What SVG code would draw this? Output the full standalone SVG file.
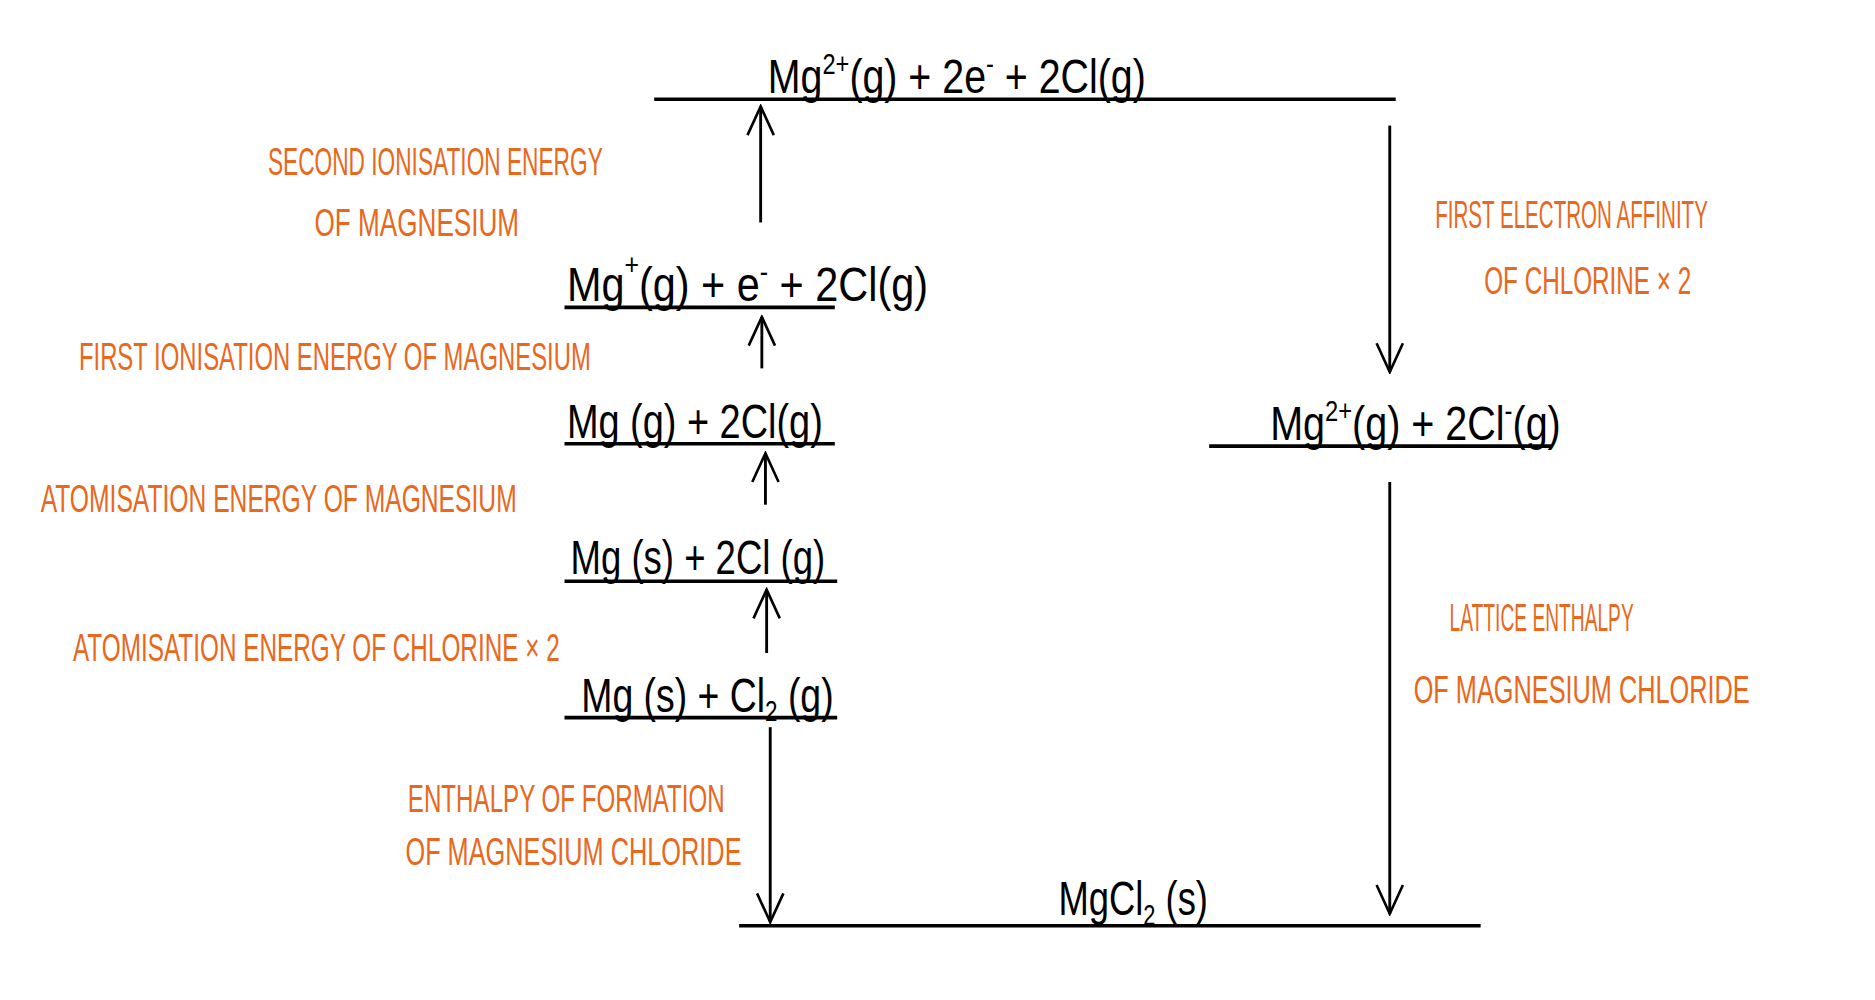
<svg xmlns="http://www.w3.org/2000/svg" width="1875" height="1000" viewBox="0 0 1875 1000">
<style>
.lv{stroke:#000;stroke-width:3;fill:none}
.ar{stroke:#000;stroke-width:2.4;fill:none}
.lb{font-family:"Liberation Sans Narrow","Liberation Sans",sans-serif;font-size:33px;fill:#e8681e}
.ch{font-family:"Liberation Sans Narrow","Liberation Sans",sans-serif;font-size:40px;fill:#000}
.sm{font-size:24px}
</style>
<defs>
<marker id="ah" viewBox="0 0 28 28" refX="26" refY="14" markerWidth="28" markerHeight="28" markerUnits="userSpaceOnUse" orient="auto">
<path d="M2 3 L26 14 L2 25" stroke="#000" stroke-width="2.2" fill="none"/>
</marker>
</defs>
<rect width="1875" height="1000" fill="#fff"/>
<g transform="scale(1.196)">
<g id="levels">
<g id="n1"><line class="lv" x1="547" y1="83" x2="1167" y2="83"/><text class="ch" x="642" y="78" textLength="316" lengthAdjust="spacingAndGlyphs">Mg<tspan class="sm" dy="-16">2+</tspan><tspan dy="16">(g) + 2e</tspan><tspan class="sm" dy="-16">-</tspan><tspan dy="16"> + 2Cl(g)</tspan></text></g>
<g id="n2"><line class="lv" x1="472" y1="257" x2="698" y2="257"/><text class="ch" x="474" y="252" textLength="302" lengthAdjust="spacingAndGlyphs">Mg<tspan class="sm" dy="-22">+</tspan><tspan dy="22">(g) + e</tspan><tspan class="sm" dy="-16">-</tspan><tspan dy="16"> + 2Cl(g)</tspan></text></g>
<g id="n3"><line class="lv" x1="472" y1="371" x2="698" y2="371"/><text class="ch" x="474" y="366" textLength="214" lengthAdjust="spacingAndGlyphs">Mg (g) + 2Cl(g)</text></g>
<g id="n4"><line class="lv" x1="472" y1="486" x2="700" y2="486"/><text class="ch" x="477" y="480" textLength="213" lengthAdjust="spacingAndGlyphs">Mg (s) + 2Cl (g)</text></g>
<g id="n5"><line class="lv" x1="472" y1="600" x2="700" y2="600"/><text class="ch" x="486" y="595" textLength="211" lengthAdjust="spacingAndGlyphs">Mg (s) + Cl<tspan class="sm" dy="8">2</tspan><tspan dy="-8"> (g)</tspan></text></g>
<g id="n6"><line class="lv" x1="1011" y1="373" x2="1297" y2="373"/><text class="ch" x="1062" y="368" textLength="243" lengthAdjust="spacingAndGlyphs">Mg<tspan class="sm" dy="-16">2+</tspan><tspan dy="16">(g) + 2Cl</tspan><tspan class="sm" dy="-16">-</tspan><tspan dy="16">(g)</tspan></text></g>
<g id="n7"><line class="lv" x1="618" y1="774" x2="1238" y2="774"/><text class="ch" x="885" y="765" textLength="125" lengthAdjust="spacingAndGlyphs">MgCl<tspan class="sm" dy="8">2</tspan><tspan dy="-8"> (s)</tspan></text></g>
</g>
<g id="connectors">
<line class="ar" x1="636" y1="186" x2="636" y2="89" marker-end="url(#ah)"/>
<line class="ar" x1="637" y1="308" x2="637" y2="265" marker-end="url(#ah)"/>
<line class="ar" x1="640" y1="422" x2="640" y2="379" marker-end="url(#ah)"/>
<line class="ar" x1="641" y1="546" x2="641" y2="493" marker-end="url(#ah)"/>
<line class="ar" x1="644" y1="608" x2="644" y2="771" marker-end="url(#ah)"/>
<line class="ar" x1="1162" y1="105" x2="1162" y2="311" marker-end="url(#ah)"/>
<line class="ar" x1="1162" y1="403" x2="1162" y2="764" marker-end="url(#ah)"/>
</g>
<g id="labels">
<text class="lb" x="224" y="146" textLength="280" lengthAdjust="spacingAndGlyphs">SECOND IONISATION ENERGY</text>
<text class="lb" x="263" y="197" textLength="171" lengthAdjust="spacingAndGlyphs">OF MAGNESIUM</text>
<text class="lb" x="66" y="309" textLength="428" lengthAdjust="spacingAndGlyphs">FIRST IONISATION ENERGY OF MAGNESIUM</text>
<text class="lb" x="34" y="428" textLength="398" lengthAdjust="spacingAndGlyphs">ATOMISATION ENERGY OF MAGNESIUM</text>
<text class="lb" x="61" y="553" textLength="407" lengthAdjust="spacingAndGlyphs">ATOMISATION ENERGY  OF CHLORINE  × 2</text>
<text class="lb" x="341" y="679" textLength="265" lengthAdjust="spacingAndGlyphs">ENTHALPY OF FORMATION</text>
<text class="lb" x="339" y="723" textLength="281" lengthAdjust="spacingAndGlyphs">OF MAGNESIUM  CHLORIDE</text>
<text class="lb" x="1200" y="191" textLength="228" lengthAdjust="spacingAndGlyphs">FIRST ELECTRON AFFINITY</text>
<text class="lb" x="1241" y="246" textLength="173" lengthAdjust="spacingAndGlyphs">OF CHLORINE  × 2</text>
<text class="lb" x="1212" y="528" textLength="154" lengthAdjust="spacingAndGlyphs">LATTICE ENTHALPY</text>
<text class="lb" x="1182" y="588" textLength="281" lengthAdjust="spacingAndGlyphs">OF MAGNESIUM  CHLORIDE</text>
</g>
</g>
</svg>
